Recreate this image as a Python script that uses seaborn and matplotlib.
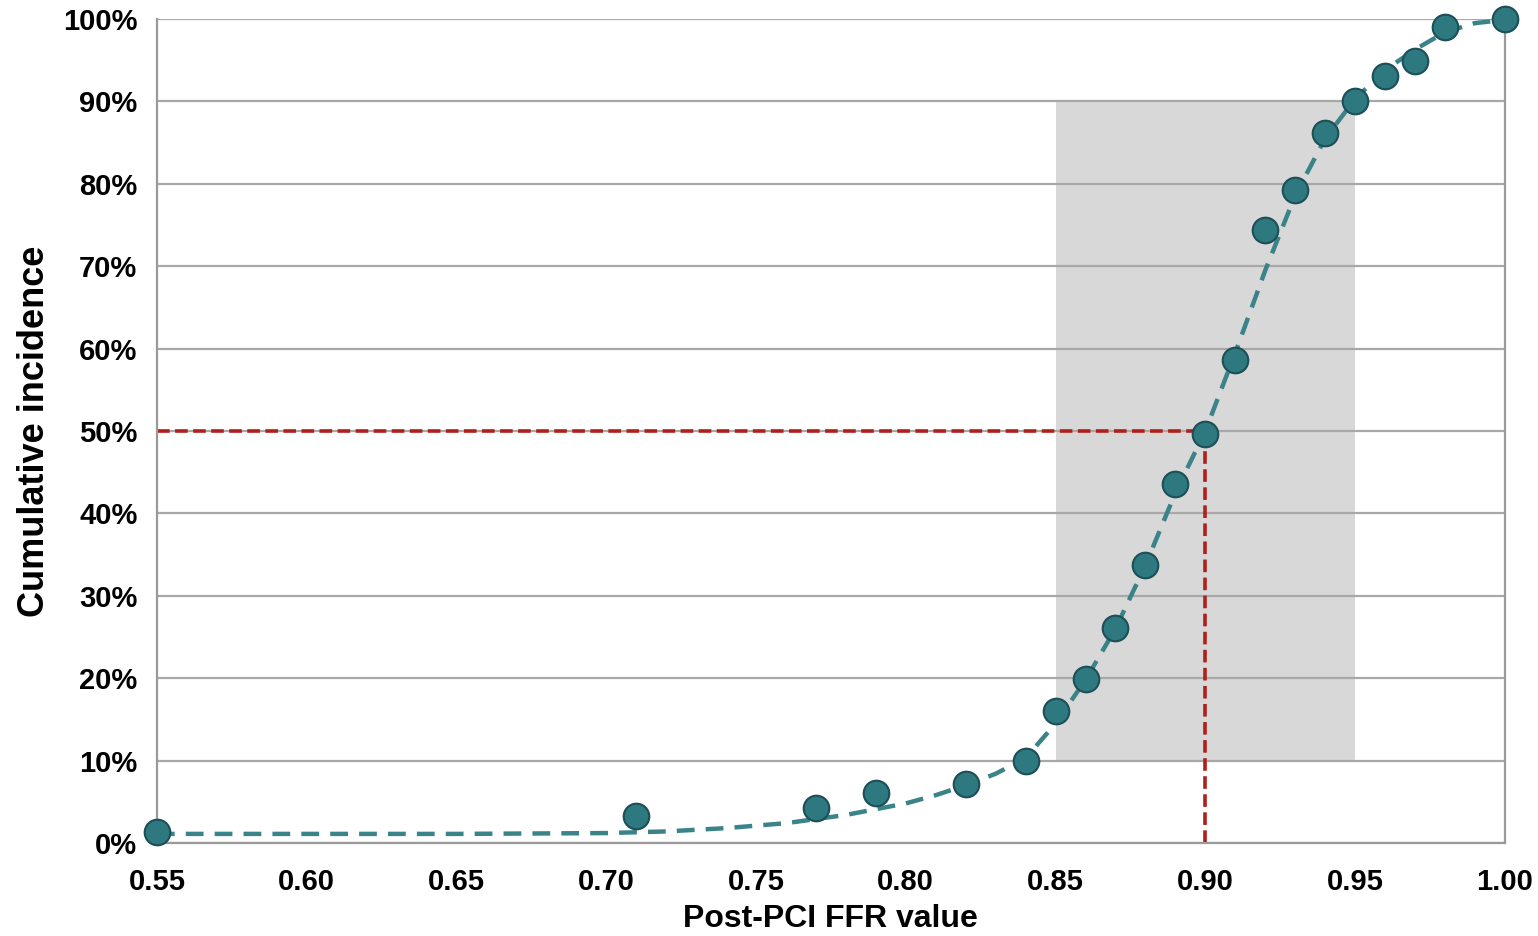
import numpy as np
import pandas as pd
import matplotlib.pyplot as plt
import seaborn as sns
from matplotlib.ticker import FuncFormatter

# observed cumulative incidence per post-PCI FFR value
ffr_values = [0.55, 0.71, 0.77, 0.79, 0.82, 0.84, 0.85, 0.86, 0.87, 0.88, 0.89,
              0.90, 0.91, 0.92, 0.93, 0.94, 0.95, 0.96, 0.97, 0.98, 1.00]
cum_incidence = [1.3, 3.3, 4.2, 6.1, 7.2, 10.0, 16.0, 19.9, 26.1, 33.7, 43.6,
                 49.6, 58.6, 74.4, 79.2, 86.2, 90.0, 93.1, 94.9, 99.0, 100.0]

# fitted curve
curve_x = [0.55, 0.60, 0.65, 0.70, 0.72, 0.74, 0.76, 0.78, 0.80, 0.81, 0.82,
           0.83, 0.84, 0.85, 0.86, 0.87, 0.88, 0.89, 0.90, 0.91, 0.92, 0.93,
           0.94, 0.95, 0.96, 0.97, 0.98, 0.99, 1.00]
curve_y = [1.1, 1.1, 1.1, 1.2, 1.4, 1.8, 2.4, 3.4, 4.8, 5.8, 7.0,
           8.4, 10.3, 14.5, 19.8, 26.0, 33.7, 42.5, 50.0, 59.5, 69.5, 78.6,
           85.5, 90.3, 93.8, 96.3, 98.4, 99.5, 99.9]

# shaded band and the median cut-off
band_x = [0.85, 0.95]
band_y = [10, 90]
median_x = 0.90
median_y = 50

x_ticks = [0.55, 0.60, 0.65, 0.70, 0.75, 0.80, 0.85, 0.90, 0.95, 1.00]
y_ticks = list(range(0, 101, 10))

pts = pd.DataFrame({'ffr': ffr_values, 'inc': cum_incidence})
fit = pd.DataFrame({'ffr': curve_x, 'inc': curve_y})

sns.set_style('white')
plt.rcParams['font.family'] = ['Liberation Sans', 'DejaVu Sans']

fig, ax = plt.subplots(figsize=(15.38, 9.36), dpi=100)
fig.subplots_adjust(left=0.102, right=0.9785, bottom=0.0994, top=0.9797)

ax.fill_between(band_x, band_y[0], band_y[1], color='#d8d8d8', zorder=0, lw=0)

ax.plot([x_ticks[0], median_x], [median_y, median_y], color='#b01f1a',
        ls=(0, (3.5, 1.5)), lw=2.6, zorder=2)
ax.plot([median_x, median_x], [0, median_y], color='#b01f1a',
        ls=(0, (3.5, 1.5)), lw=2.6, zorder=2)

sns.lineplot(data=fit, x='ffr', y='inc', ax=ax, color='#3a8388', lw=3.2,
             zorder=3, estimator=None, sort=False)
ax.lines[-1].set_linestyle((0, (4, 2.5)))
sns.scatterplot(data=pts, x='ffr', y='inc', ax=ax, s=340, color='#2e7880',
                edgecolor='#1d4f57', linewidth=1.5, zorder=4, clip_on=False)

ax.set_xlim(0.55, 1.00)
ax.set_ylim(0, 100)
ax.set_xticks(x_ticks)
ax.set_yticks(y_ticks)
ax.xaxis.set_major_formatter(FuncFormatter(lambda v, p: f'{v:.2f}'))
ax.yaxis.set_major_formatter(FuncFormatter(lambda v, p: f'{v:.0f}%'))

ax.set_axisbelow(True)
ax.yaxis.grid(True, color='#a8a8a8', lw=1.6, zorder=1)
ax.xaxis.grid(False)
for side in ['left', 'right', 'bottom']:
    ax.spines[side].set_color('#9a9a9a')
    ax.spines[side].set_linewidth(1.6)
ax.spines['top'].set_visible(False)

ax.tick_params(axis='both', length=6, width=1.2, color='#9a9a9a',
               labelsize=21, labelcolor='black')
ax.tick_params(axis='x', pad=12)
ax.tick_params(axis='y', pad=8)
for lab in ax.get_xticklabels() + ax.get_yticklabels():
    lab.set_fontweight('bold')

ax.set_xlabel('Post-PCI FFR value', fontsize=23, fontweight='bold',
              labelpad=6, color='black')
ax.set_ylabel('Cumulative incidence', fontsize=26, fontweight='bold',
              labelpad=8, color='black')

fig.savefig('out.png', dpi=100)
